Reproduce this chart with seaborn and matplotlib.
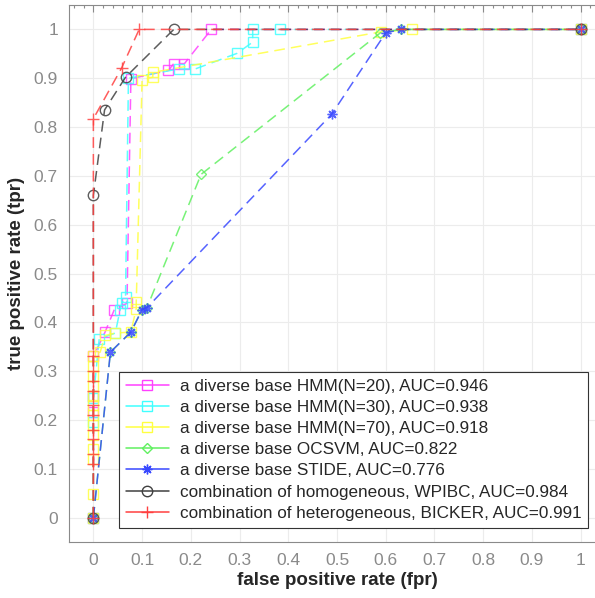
import numpy as np
import pandas as pd
import matplotlib
matplotlib.use("Agg")
import matplotlib.pyplot as plt
import seaborn as sns
from matplotlib.lines import Line2D
from matplotlib.ticker import MultipleLocator

# ----------------------------
# Data
# ----------------------------

hmm20_fpr = [0, 0, 0, 0, 0.024, 0.043, 0.069, 0.077, 0.154, 0.165, 0.187, 0.242, 1]
hmm20_tpr = [0, 0.216, 0.25, 0.33, 0.38, 0.426, 0.439, 0.899, 0.916, 0.93, 0.93, 1, 1]

hmm30_fpr = [0, 0, 0, 0.012, 0.045, 0.055, 0.058, 0.066, 0.072, 0.175, 0.209, 0.295, 0.327, 0.327, 0.382, 1]
hmm30_tpr = [0, 0.195, 0.245, 0.366, 0.378, 0.426, 0.439, 0.451, 0.9, 0.919, 0.919, 0.951, 0.974, 1, 1, 1]

hmm70_fpr = [0, 0, 0, 0, 0, 0, 0, 0, 0, 0, 0, 0, 0,
             0.014, 0.024, 0.045, 0.077, 0.088, 0.088, 0.1, 0.122, 0.122, 0.59, 0.654, 1]
hmm70_tpr = [0, 0.049, 0.12, 0.14, 0.17, 0.19, 0.21, 0.23, 0.25, 0.27, 0.29, 0.31, 0.33,
             0.339, 0.373, 0.378, 0.38, 0.428, 0.441, 0.897, 0.902, 0.912, 0.995, 1, 1]

ocsvm_fpr = [0, 0.035, 0.077, 0.1, 0.11, 0.221, 0.589, 0.632, 1]
ocsvm_tpr = [0, 0.339, 0.38, 0.426, 0.43, 0.703, 0.993, 1, 1]

stide_fpr = [0, 0.035, 0.077, 0.1, 0.11, 0.489, 0.6, 0.632, 1]
stide_tpr = [0, 0.339, 0.38, 0.426, 0.43, 0.826, 0.993, 1, 1]

wpibc_fpr = [0, 0, 0.023, 0.066, 0.165, 1]
wpibc_tpr = [0, 0.66, 0.835, 0.902, 1, 1]

bicker_fpr = [0, 0, 0, 0, 0, 0, 0, 0, 0, 0, 0, 0, 0.058, 0.094, 1]
bicker_tpr = [0, 0.11, 0.13, 0.16, 0.18, 0.21, 0.23, 0.26, 0.28, 0.3, 0.33, 0.817, 0.921, 1, 1]

labels = [
    "a diverse base HMM(N=20), AUC=0.946",
    "a diverse base HMM(N=30), AUC=0.938",
    "a diverse base HMM(N=70), AUC=0.918",
    "a diverse base OCSVM, AUC=0.822",
    "a diverse base STIDE, AUC=0.776",
    "combination of homogeneous, WPIBC, AUC=0.984",
    "combination of heterogeneous, BICKER, AUC=0.991",
]

series = [
    (hmm20_fpr, hmm20_tpr),
    (hmm30_fpr, hmm30_tpr),
    (hmm70_fpr, hmm70_tpr),
    (ocsvm_fpr, ocsvm_tpr),
    (stide_fpr, stide_tpr),
    (wpibc_fpr, wpibc_tpr),
    (bicker_fpr, bicker_tpr),
]

colors = ["#ff40ff", "#40ffff", "#ffff40", "#60f060", "#3848ff", "#404040", "#ff4040"]
markers = ["s", "s", "s", "D", (8, 2, 0), "o", "+"]
msizes = [6.5, 6.5, 6.5, 5.5, 7, 7.5, 8]

# ----------------------------
# Style
# ----------------------------

sns.set_style("white")
plt.rcParams["font.family"] = ["Liberation Sans", "DejaVu Sans"]

fig = plt.figure(figsize=(5.95, 5.98), dpi=100)
ax = fig.add_axes([69 / 595, 56 / 598, 536 / 595, 537 / 598])

# ----------------------------
# Draw curves
# ----------------------------

for (fpr, tpr), lab, col, mk, ms in zip(series, labels, colors, markers, msizes):
    df = pd.DataFrame({"fpr": fpr, "tpr": tpr})
    sns.lineplot(
        data=df, x="fpr", y="tpr", ax=ax,
        estimator=None, sort=False,
        color=col, linewidth=1.1, alpha=0.85,
        marker=mk, markersize=ms,
        markerfacecolor="none", markeredgecolor=col, markeredgewidth=1.0,
        dashes=False,
    )
    ax.lines[-1].set_dashes((7, 4))

# ----------------------------
# Axes
# ----------------------------

ax.set_xlim(-0.05, 1.05)
ax.set_ylim(-0.05, 1.05)
ax.xaxis.set_minor_locator(MultipleLocator(0.02))
ax.yaxis.set_minor_locator(MultipleLocator(0.02))
ticks = np.round(np.arange(0, 1.01, 0.1), 1)
ax.set_xticks(ticks)
ax.set_yticks(ticks)
ax.set_xticklabels([f"{t:g}" for t in ticks])
ax.set_yticklabels([f"{t:g}" for t in ticks])

ax.tick_params(which="both", direction="in", top=True, right=True,
               colors="#8a8a8a", labelsize=12.5, width=0.8)
ax.tick_params(which="major", length=5, pad=8)
ax.tick_params(which="minor", length=2.5)

ax.grid(True, which="major", color="#ececec", linewidth=0.8)
ax.set_axisbelow(True)
for sp in ax.spines.values():
    sp.set_color("#8a8a8a")
    sp.set_linewidth(0.8)

ax.set_xlabel("false positive rate (fpr)", fontsize=13.5, fontweight="bold", labelpad=3)
ax.set_ylabel("true positive rate (tpr)", fontsize=13.5, fontweight="bold", labelpad=6)

# ----------------------------
# Legend
# ----------------------------

handles = [
    Line2D([0], [0], color=c, marker=m, markersize=s, markerfacecolor="none",
           markeredgecolor=c, linewidth=1.1)
    for c, m, s in zip(colors, markers, msizes)
]
leg = ax.legend(
    handles, labels,
    loc="upper left", bbox_to_anchor=(119 / 595, 1 - 372 / 598),
    bbox_transform=fig.transFigure,
    fontsize=12.3, frameon=True, fancybox=False, framealpha=1,
    handlelength=2.5, handletextpad=0.65, labelspacing=0.36,
    borderpad=0.4, borderaxespad=0, numpoints=1,
)
leg.get_frame().set_edgecolor("#333333")
leg.get_frame().set_linewidth(0.8)

plt.savefig("out.png", dpi=100)
